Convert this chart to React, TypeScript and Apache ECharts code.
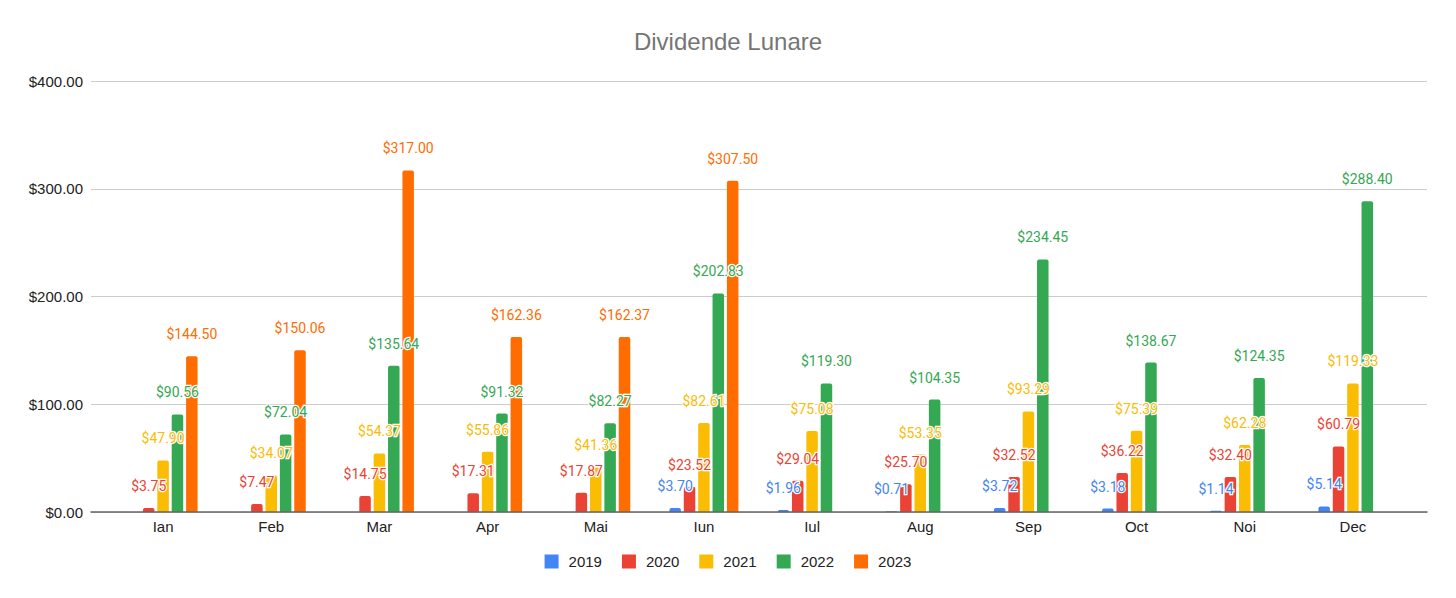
import React, { useEffect, useRef } from "react";
import * as echarts from "echarts";

const months = ["Ian", "Feb", "Mar", "Apr", "Mai", "Iun", "Iul", "Aug", "Sep", "Oct", "Noi", "Dec"];
const years = ["2019", "2020", "2021", "2022", "2023"];
const v2019 = [null, null, null, null, null, 3.7, 1.96, 0.71, 3.72, 3.18, 1.14, 5.14];
const v2020 = [3.75, 7.47, 14.75, 17.31, 17.87, 23.52, 29.04, 25.7, 32.52, 36.22, 32.4, 60.79];
const v2021 = [47.9, 34.07, 54.37, 55.86, 41.36, 82.61, 75.08, 53.35, 93.29, 75.39, 62.28, 119.33];
const v2022 = [90.56, 72.04, 135.64, 91.32, 82.27, 202.83, 119.3, 104.35, 234.45, 138.67, 124.35, 288.4];
const v2023 = [144.5, 150.06, 317.0, 162.36, 162.37, 307.5, null, null, null, null, null, null];
const seriesValues = [v2019, v2020, v2021, v2022, v2023];
const colors = ["#4285F4", "#EA4335", "#FBBC04", "#34A853", "#FF6D01"];
const yMin = 0;
const yMax = 400;
const yStep = 100;

const money = (v: number) => "$" + v.toFixed(2);
const sans = "Liberation Sans, Arial, sans-serif";

export default function App() {
  const ref = useRef<HTMLDivElement>(null);
  useEffect(() => {
    if (!ref.current) return;
    const chart = echarts.init(ref.current, undefined, { renderer: "svg" });
    chart.setOption({
      animation: false,
      backgroundColor: "#ffffff",
      title: {
        text: "Dividende Lunare",
        left: "center",
        top: 24,
        textStyle: { color: "#757575", fontSize: 24, fontWeight: "normal", fontFamily: sans },
      },
      legend: {
        data: years,
        left: "center",
        top: 549,
        itemWidth: 14,
        itemHeight: 14,
        itemGap: 20,
        icon: "rect",
        textStyle: { color: "#222222", fontSize: 15, fontFamily: sans, padding: [0, 0, 0, 5] },
      },
      grid: [
        { left: 91, right: 29, top: 81, bottom: 86 },
        { left: 109, right: 49, top: 81, bottom: 86 },
      ],
      xAxis: [
        {
          type: "category",
          gridIndex: 0,
          data: months,
          axisLine: { show: true, lineStyle: { color: "#666666", width: 1.5 } },
          axisTick: { show: false },
          axisLabel: { show: false },
          z: 5,
        },
        {
          type: "category",
          gridIndex: 1,
          data: months,
          axisLine: { show: false },
          axisTick: { show: false },
          axisLabel: { color: "#222222", fontSize: 15, margin: 7, fontFamily: sans },
        },
      ],
      yAxis: [
        {
          type: "value",
          gridIndex: 0,
          min: yMin,
          max: yMax,
          interval: yStep,
          axisLine: { show: false },
          axisTick: { show: false },
          axisLabel: { color: "#222222", fontSize: 15, margin: 8, formatter: (v: number) => money(v), fontFamily: sans },
          splitLine: { lineStyle: { color: "#cccccc", width: 1 } },
        },
        {
          type: "value",
          gridIndex: 1,
          min: yMin,
          max: yMax,
          interval: yStep,
          show: false,
          splitLine: { show: false },
        },
      ],
      series: years.map((y, i) => ({
        name: y,
        type: "bar",
        xAxisIndex: 1,
        yAxisIndex: 1,
        data: seriesValues[i],
        barWidth: 11.5,
        barGap: "25%",
        itemStyle: { color: colors[i], borderRadius: [2, 2, 0, 0] },
        label: {
          show: true,
          position: "top",
          distance: 15,
          color: colors[i],
          fontSize: 14,
          fontFamily: "Roboto, sans-serif",
          textBorderColor: "#ffffff",
          textBorderWidth: 2.5,
          formatter: (p: any) => (p.value == null ? "" : money(p.value)),
        },
      })),
    });
    return () => chart.dispose();
  }, []);
  return <div ref={ref} style={{ position: "absolute", left: 0, top: 0, width: 1456, height: 598 }} />;
}
